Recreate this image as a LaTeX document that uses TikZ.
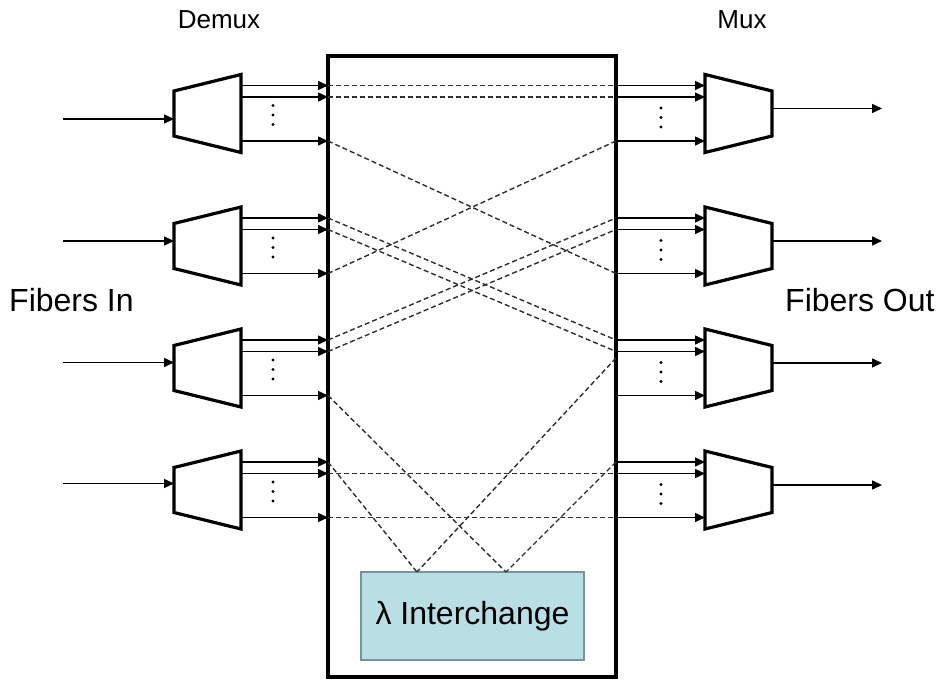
\documentclass[tikz,border=0pt]{standalone}
\usepackage{fontspec}
\setmainfont{Liberation Sans}
\usetikzlibrary{arrows.meta}
\definecolor{ichfill}{RGB}{185,223,229}
\definecolor{ichline}{RGB}{120,148,154}
\definecolor{dashgray}{RGB}{45,45,45}
\tikzset{
  trap/.style={line width=3.2pt, line join=miter},
  sig/.style={line width=1.5pt, -{Triangle[length=10pt,width=9pt]}},
  link/.style={line width=1.4pt, dashgray, dash pattern=on 5pt off 3pt},
  frame/.style={line width=3.6pt},
  ichbox/.style={draw=ichline, line width=2.5pt, fill=ichfill,
    minimum width=223pt, minimum height=88pt, inner sep=0pt,
    font=\fontsize{32}{38}\selectfont},
  biglabel/.style={font=\fontsize{32}{38}\selectfont, inner sep=0pt},
  smalllabel/.style={font=\fontsize{26}{31}\selectfont, inner sep=0pt},
  dot/.style={fill=black, draw=none}
}
\begin{document}
\begin{tikzpicture}[x=1pt,y=-1pt]
\useasboundingbox (0,0) rectangle (940,682);

% switching fabric frame
\draw[frame] (328,56) rectangle (616,677);

% labels
\node[smalllabel] (tdemux) at (219,20) {Demux};
\node[smalllabel] (tmux) at (742,20) {Mux};
\node[biglabel, anchor=west] (tin) at (9,300) {Fibers In};
\node[biglabel, anchor=west] (tout) at (785,300) {Fibers Out};

% demultiplexers and multiplexers, one row per fibre
\foreach \g/\c/\yi/\yo in {1/113.5/119/108.5, 2/246/241/241, 3/368/362.5/363, 4/490/483.5/485} {
  % demux
  \draw[trap] (174,{\c-22.5}) -- (241,{\c-39}) -- (241,{\c+39}) -- (174,{\c+22.5}) -- cycle;
  \coordinate (fin\g) at (63,\yi);
  \coordinate (din\g) at (174,\yi);
  \draw[sig] (fin\g) -- (din\g);
  % mux
  \draw[trap] (705,{\c-39}) -- (772,{\c-22.5}) -- (772,{\c+22.5}) -- (705,{\c+39}) -- cycle;
  \coordinate (mout\g) at (772,\yo);
  \coordinate (fout\g) at (882,\yo);
  \draw[sig] (mout\g) -- (fout\g);
  % wavelength ports
  \foreach \k/\o in {1/-28, 2/-16.5, 3/27.5} {
    \coordinate (D\g-\k) at (241,{\c+\o});
    \coordinate (L\g-\k) at (328,{\c+\o});
    \coordinate (R\g-\k) at (616,{\c+\o});
    \coordinate (M\g-\k) at (705,{\c+\o});
    \draw[sig] (D\g-\k) -- (L\g-\k);
    \draw[sig] (R\g-\k) -- (M\g-\k);
  }
  % vertical ellipses
  \foreach \o in {-8,1.5,11} {
    \fill[dot] (273,{\c+\o}) circle (1.6pt);
  }
  \foreach \o in {-5.5,4,13.5} {
    \fill[dot] (661,{\c+\o}) circle (1.6pt);
  }
}

% wavelength interchange
\node[ichbox] (ich) at (472.5,616) {λ Interchange};
\coordinate (ichA) at (417,572);
\coordinate (ichB) at (506,572);
\coordinate (Rx) at (616,358);

% cross-connections through the fabric
\draw[link] (L1-1) -- (R1-1);
\draw[link] (L1-2) -- (R1-2);
\draw[link] (L1-3) -- (R2-3);
\draw[link] (L2-3) -- (R1-3);
\draw[link] (L2-1) -- (R3-1);
\draw[link] (L2-2) -- (R3-2);
\draw[link] (L3-1) -- (R2-1);
\draw[link] (L3-2) -- (R2-2);
\draw[link] (L3-3) -- (ichB);
\draw[link] (L4-1) -- (ichA);
\draw[link] (Rx) -- (ichA);
\draw[link] (R4-1) -- (ichB);
\draw[link] (L4-2) -- (R4-2);
\draw[link] (L4-3) -- (R4-3);
\end{tikzpicture}
\end{document}
